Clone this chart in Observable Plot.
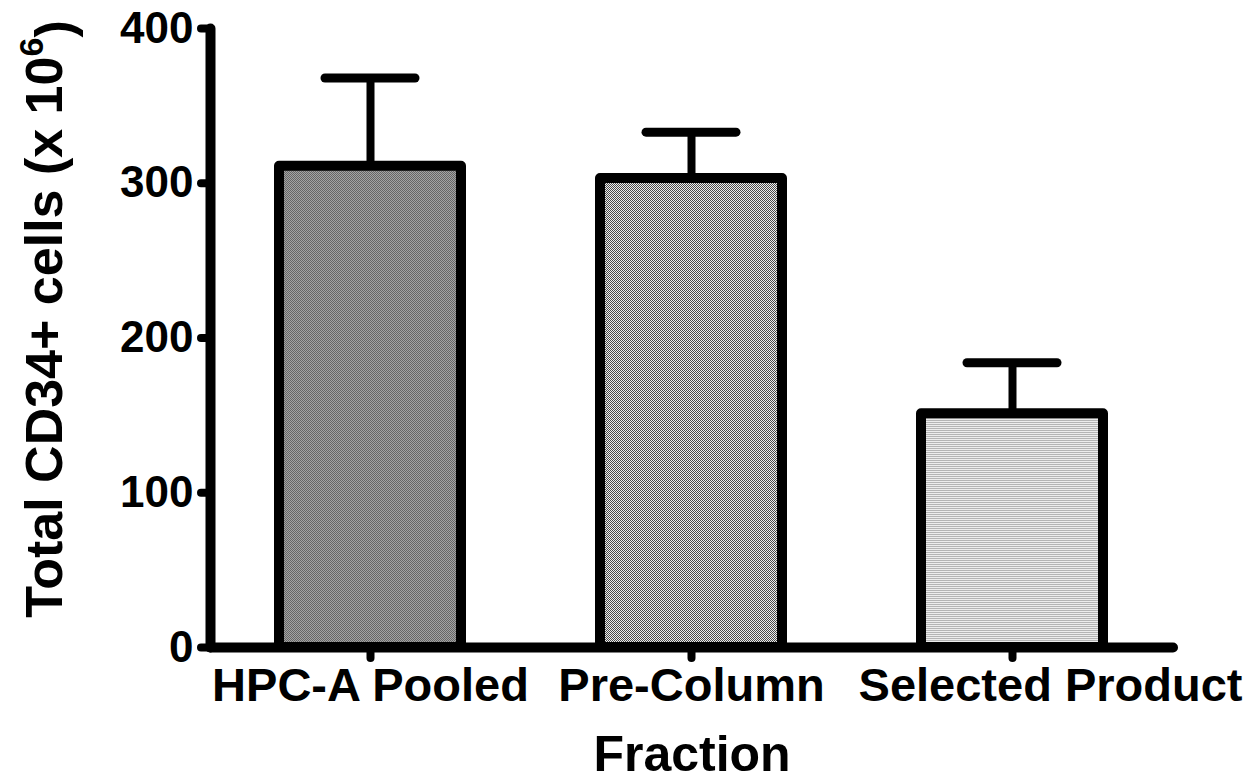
<!DOCTYPE html>
<html>
<head>
<meta charset="utf-8">
<script src="https://cdn.jsdelivr.net/npm/d3@7"></script>
<script src="https://cdn.jsdelivr.net/npm/@observablehq/plot@0.6"></script>
<style>
  html, body { margin: 0; padding: 0; background: #fff; }
  #chart svg { display: block; overflow: visible; }
</style>
</head>
<body>
<div id="chart"></div>
<script>
const categories = ["HPC-A Pooled", "Pre-Column", "Selected Product"];
const values = [311, 303, 151];
const errors = [57, 30, 33];
const yTicks = [0, 100, 200, 300, 400];
const patternIds = ["url(#patA)", "url(#patB)", "url(#patC)"];
const yTitleMain = "Total CD34+ cells (x 10";
const yTitleSup = "6";
const yTitleEnd = ")";
const yTitle = yTitleMain + yTitleSup + yTitleEnd;
const xTitle = "Fraction";

const data = categories.map((c, i) => ({category: c, value: values[i], upper: values[i] + errors[i]}));

const font = "'Liberation Sans', Arial, Helvetica, sans-serif";

const chart = Plot.plot({
  width: 1253,
  height: 782,
  marginLeft: 210,
  marginRight: 80,
  marginTop: 28,
  marginBottom: 135,
  style: {fontFamily: font, fontWeight: "bold", color: "#000", background: "#fff"},
  x: {domain: categories, paddingInner: 0.432, paddingOuter: 0.214, axis: null},
  y: {domain: [0, 400], axis: null},
  color: {domain: categories, range: patternIds},
  marks: [
    Plot.ruleX(data, {x: "category", y1: "value", y2: "upper", stroke: "#000", strokeWidth: 8}),
    Plot.tickY(data, {x: "category", y: "upper", stroke: "#000", strokeWidth: 9, strokeLinecap: "round", insetLeft: 46, insetRight: 46}),
    Plot.barY(data, {x: "category", y: "value", fill: "category", stroke: "#000", strokeWidth: 10, strokeLinejoin: "round"}),
    Plot.ruleY([0], {stroke: "#000", strokeWidth: 10, strokeLinecap: "round"}),
    Plot.frame({anchor: "left", stroke: "#000", strokeWidth: 10, strokeLinecap: "round"}),
    Plot.axisY({ticks: yTicks, tickSize: 9, tickPadding: 8, stroke: "#000", strokeWidth: 8, strokeLinecap: "round", fontSize: 44, label: null}),
    Plot.axisX({tickSize: 11, tickFormat: () => "", stroke: "#000", strokeWidth: 8, strokeLinecap: "round", label: null}),
    Plot.axisX(categories.slice(0, 2), {tickSize: 0, tickPadding: 20, fontSize: 47, label: null}),
    Plot.axisX(categories.slice(2), {tickSize: 0, tickPadding: 20, fontSize: 47, dx: 38, label: null}),
    Plot.text([yTitle], {frameAnchor: "left", textAnchor: "middle", rotate: -90, dx: -165, dy: -19, lineAnchor: "middle", fontSize: 52, fontWeight: "bold"}),
    Plot.text([xTitle], {frameAnchor: "bottom", textAnchor: "middle", dy: 107, lineAnchor: "middle", fontSize: 50, fontWeight: "bold"})
  ]
});

// Superscript exponent in the y title
d3.select(chart).selectAll("text").filter(function() { return this.textContent === yTitle; })
  .each(function() {
    const t = d3.select(this);
    t.text(null);
    t.append("tspan").text(yTitleMain);
    t.append("tspan").attr("dy", "-0.55em").style("font-size", "34px").text(yTitleSup);
    t.append("tspan").attr("dy", "0.55em").text(yTitleEnd);
  });

// Fill patterns for the bars
const defs = d3.select(chart).insert("defs", ":first-child");
function checker(id, a, b) {
  const p = defs.append("pattern").attr("id", id).attr("patternUnits", "userSpaceOnUse")
    .attr("width", 2).attr("height", 2);
  p.append("rect").attr("width", 2).attr("height", 2).attr("fill", b);
  p.append("rect").attr("width", 1).attr("height", 1).attr("fill", a);
  p.append("rect").attr("x", 1).attr("y", 1).attr("width", 1).attr("height", 1).attr("fill", a);
}
checker("patA", "#666666", "#a4a4a4");
checker("patB", "#4a4a4a", "#eeeeee");
const pc = defs.append("pattern").attr("id", "patC").attr("patternUnits", "userSpaceOnUse")
  .attr("width", 2).attr("height", 2);
pc.append("rect").attr("width", 2).attr("height", 2).attr("fill", "#ececec");
pc.append("rect").attr("width", 2).attr("height", 1).attr("fill", "#b4b4b4");

document.getElementById("chart").appendChild(chart);
</script>
</body>
</html>
